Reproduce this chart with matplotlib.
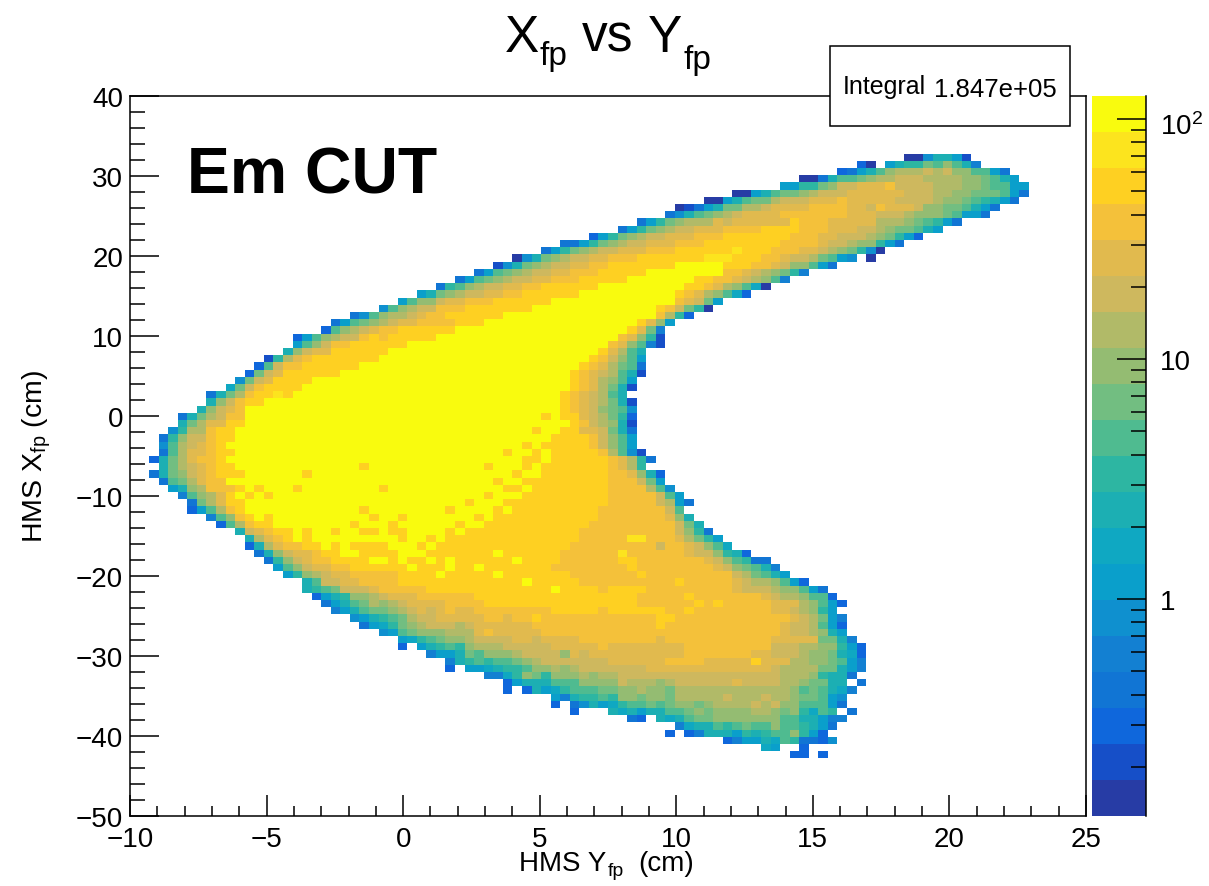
import numpy as np
import matplotlib
matplotlib.use('Agg')
import matplotlib.pyplot as plt
from matplotlib.colors import ListedColormap, LogNorm
from matplotlib.transforms import ScaledTranslation

plt.rcParams['font.family'] = ['Liberation Sans', 'DejaVu Sans']
plt.rcParams['mathtext.fontset'] = 'custom'
plt.rcParams['mathtext.rm'] = 'Liberation Sans'
plt.rcParams['mathtext.it'] = 'Liberation Sans'
plt.rcParams['mathtext.default'] = 'regular'

W, H = 1209, 887

# histogram binning
x_min, x_max, n_x = -10, 25, 100
y_min, y_max, n_y = -50, 40, 100
z_min, z_max = 10 ** -0.904, 10 ** 2.096

# the 20 colours of the z axis, bottom to top
level_colors = ['#273CA5', '#164FC8', '#0F67DC', '#1175D4', '#1380D2', '#0F90CF', '#0A9FCB',
                '#0FA8C2', '#1CAFB3', '#2DB6A2', '#4FBB90', '#72BE81', '#94BC72', '#B1BA68',
                '#CEB85E', '#E1BA4E', '#F4C13A', '#FED022', '#FCE41E', '#F9FB0E']
level_chars = '0123456789abcdefghij'

# cells, one string per y bin from bin 91 down to bin 8
# "col:levels" - the last level of a chunk runs on to the next chunk, '.' is an empty bin
first_row = 91
cell_rows = [
    "81:0058861",
    "76:20.6899baca84",
    "74:2368acdddedeccaa63",
    "70:0038aabcddeeeddddccba86",
    "68:6699bceefffgeeeedddccbaa66",
    "63:0068abbcdeeef 81:eeeddccbbba63",
    "60:0068abbdeeefffgf 80:eeeedccba9863",
    "57:01368bbddef 71:g 75:ffegfffeccbba863",
    "56:358abcdef 68:g 75:fffeeedcccba663",
    "53:369bcddd 61:fef 69:hggg 73:f 78:dddcba963",
    "51:369bcdeef 62:g 66:h 70:g 73:f 76:eedcbba86",
    "48:269bcdeefff 59:g 62:h 69:g 72:f 74:eeedcb962",
    "45:3369bcdeefffggg 60:h 68:g 72:feedcc963",
    "43:369bcdeefffgggh 63:ih 67:g 70:ffedcb950",
    "40:058bcdeeffgggh 60:iiih 66:ggfeedba65.0",
    "38:158bcdeeffggh 57:j 62:hhhggfecca63",
    "36:36abcdeeffggghhhhhj 62:ggfedcb94",
    "34:36abcdeeffgggh 52:j 59:hhggfedca4",
    "32:39acdeeffggh 49:j 58:hhgfdca70",
    "30:68bcdeeffggh 47:j 57:hgfdca72",
    "28:6acceffgggh 44:j 57:gfeb6",
    "26:5acdeegggh 42:j 55:hgeb90",
    "23:35acddefggh 39:j 55:gd92",
    "21:36abcdeffggggh 37:j 53:hfc6",
    "20:2acdefggh 34:j 52:hfb4",
    "17:26acdeeghgh 32:j 51:gfc91",
    "17:6aceggh 29:j 50:gfca41",
    "16:8ceffh 27:j 49:hfda8",
    "14:19dfgh 26:j 48:hgeca6",
    "13:2aeggh 24:j 47:hgfdba3",
    "12:2befh 22:j 46:hgfeda81",
    "11:5befh 19:j 46:hgfdca6",
    "10:7begh 18:j 46:hgfdb81",
    "8:38bdghhih 17:j 45:hgfeda8",
    "8:8cegh 14:j 45:hgfedb81",
    "7:8cefg 12:j 45:hgfecba5",
    "5:38bdegg 12:j 43:hj 45:hhfedb92",
    "5:8bdffhh 12:j 46:hgedc81",
    "4:59ddghh 11:j 42:hj 45:hhffeb83",
    "3:39ceeghh 11:j 44:hhhhgeca6",
    "3:5adefgh 10:j 41:hj 43:hhhhhgeca6",
    "3:3adffghh 11:j 39:hj 42:hj 44:hhhhhgda51",
    "2:28bdfggh 10:j 41:hhj 44:hhhhhhgfd93",
    "3:8bdefghh 11:j 24:hj 37:hj 41:hj 43:h 50:gfd9",
    "2:38bcefghhh 12:j 18:hj 40:hj 43:h 50:ggfc82",
    "3:3abdfgg 10:j 38:hj 41:h 50:gggeb6",
    "4:68cdggghj 13:hj 17:hj 26:hj 39:hhj 42:h 50:g 54:da5",
    "5:4acdfhjhjhj 37:hj 41:h 50:g 55:ea6",
    "6:3bdfhhj 35:hj 39:h 50:g 55:ed63",
    "6:26adghj 24:hj 33:hj 38:hj 40:h 49:g 56:ea",
    "8:4acghjhj 25:hj 28:hj 36:hj 38:h 49:g 56:fc8",
    "9:2adghhj 23:hj 27:hj 34:hj 37:h 48:g 57:eb8",
    "11:8efghhj 18:hj 21:hj 24:hhj 27:hhj 33:hj 35:h 47:g 57:ec93",
    "12:8dfghjhj 28:hj 31:hj 33:h 47:g 52:iig 57:fdb96",
    "12:28dfgghhj 21:hj 23:hhhhj 30:hj 32:h 46:g 55:eg 58:feca7",
    "13:38ceffghhj 24:hhhhj 31:h 38:jh 45:g 51:ig 58:feec982",
    "14:39cefggh 25:j 27:hj 29:hhjhjh 40:jh 45:g 51:hhg 60:feca933",
    "15:6aceffggh 29:jh 33:jh 36:jh 44:g 52:hg 61:fecba84",
    "16:69cdeffg 28:h 32:jh 38:jh 46:g 53:hg 63:edba86",
    "18:8aeeffg 28:h 41:jh 47:g 57:hg 63:feddca62",
    "18:89abeeefg 31:h 44:jh 49:gh 54:g 63:f 64:eeedcca63",
    "19:2689ccdef 30:g 36:h 53:g 58:hg 66:feddcaa2",
    "20:368abdcdef 33:g 37:h 53:g 59:hghg 67:f 70:dca62",
    "21:468abbcdefef 33:gf 36:g 44:h 49:gh 56:g 58:hg 67:ffedc96",
    "23:5689abde 32:f 37:g 39:f 40:g 42:hg 55:hhg 69:fedb64",
    "24:3679bcde 34:d 35:e 36:f 42:g 55:hg 68:feeda62",
    "26:56abccc 33:d 36:f 37:g 38:f 43:g 68:feedc86",
    "28:679abc 35:d 36:e 40:f 42:e 43:f 47:g 55:f 56:g 67:f 72:bb84",
    "28:2.689a9c 36:d 39:e 44:f 49:g 50:f 58:g 67:eeeddcc962",
    "31:4668bacccdeeeecfef 58:g 65:f 67:eeedccb872",
    "33:489a9aabcd 43:e 50:f 56:g 60:f 65:h 66:f 69:ddccba64",
    "33:2.667899accdcde 54:f 67:e 68:ddddbb864",
    "37:4479cb9cccdcdde 68:dddc9883",
    "39:26888aaaccccedddcd 57:e 63:fe 68:ddcbb88.3",
    "39:2.28679aaabbccdccb 57:d 67:ddcaba874",
    "44:64899a9ccbccb 57:d 62:ed 66:eddcbba65",
    "44:2.358679aabab 57:ccbc 61:d 65:edeccaaa63",
    "46:2...878688aabc 60:b 61:c 65:ddcbc97a9.3",
    "52:32.878abbc 68:aa88644",
    "57:4788a9abaacaa9863",
    "56:2.248886989aac962",
    "62:246687a93325",
    "66:76..2",
    "69:22.2",
]

# z axis
z_major = [1, 10, 100]
z_major_labels = ['1', '10', r'$10^{2}$']
z_minor = [0.2, 0.3, 0.4, 0.5, 0.6, 0.7, 0.8, 0.9, 2, 3, 4, 5, 6, 7, 8, 9,
           20, 30, 40, 50, 60, 70, 80, 90]


def fx(px):
    return px / W


def fy(py):
    return 1 - py / H


def parse_rows():
    counts = np.full((n_y, n_x), np.nan)
    step = (np.log10(z_max) - np.log10(z_min)) / len(level_chars)
    for i, line in enumerate(cell_rows):
        row = first_row - i
        chunks = [c.split(':') for c in line.split()]
        for k, (col, chars) in enumerate(chunks):
            col = int(col)
            end = int(chunks[k + 1][0]) if k + 1 < len(chunks) else col + len(chars)
            chars = chars + chars[-1] * (end - col - len(chars))
            for j, ch in enumerate(chars):
                if ch != '.':
                    lev = level_chars.index(ch)
                    counts[row, col + j] = 10 ** (np.log10(z_min) + (lev + 0.5) * step)
    return counts


counts = parse_rows()
x_edges = np.linspace(x_min, x_max, n_x + 1)
y_edges = np.linspace(y_min, y_max, n_y + 1)

fig = plt.figure(figsize=(W / 100, H / 100), dpi=100)
ax = fig.add_axes([fx(130), fy(817), (1086 - 130) / W, (817 - 97) / H])
cmap = ListedColormap(level_colors)
norm = LogNorm(vmin=z_min, vmax=z_max)
mesh = ax.pcolormesh(x_edges, y_edges, np.ma.masked_invalid(counts), cmap=cmap, norm=norm,
                     antialiased=False, linewidth=0)

ax.set_xlim(x_min, x_max)
ax.set_ylim(y_min, y_max)
ax.set_xticks(np.arange(-10, 26, 5))
ax.set_xticks(np.arange(-10, 26, 1), minor=True)
ax.set_yticks(np.arange(-50, 41, 10))
ax.set_yticks(np.arange(-50, 41, 2), minor=True)
ax.tick_params(axis='x', which='major', direction='in', length=15, width=1.1, labelsize=20, pad=7)
ax.tick_params(axis='x', which='minor', direction='in', length=7.5, width=1.1)
ax.tick_params(axis='y', which='major', direction='in', length=21, width=1.1, labelsize=20, pad=5)
ax.tick_params(axis='y', which='minor', direction='in', length=11, width=1.1)
for s in ax.spines.values():
    s.set_linewidth(1.1)

# colour scale
cax = fig.add_axes([fx(1092), fy(817), (1146 - 1092) / W, (817 - 97) / H])
cb = fig.colorbar(mesh, cax=cax)
cb.outline.set_visible(False)
cax.minorticks_off()
cax.yaxis.set_ticks(z_major, labels=z_major_labels)
cax.yaxis.set_ticks(z_minor, labels=[''] * len(z_minor), minor=True)
cax.tick_params(axis='y', which='major', direction='in', length=21, width=1.1, labelsize=20, pad=10)
cax.tick_params(axis='y', which='minor', direction='in', length=11, width=1.1)
cax.spines['right'].set_visible(True)
cax.spines['right'].set_linewidth(1.1)
top_label = cax.get_yticklabels()[-1]
top_label.set_transform(top_label.get_transform() + ScaledTranslation(0, -3 / 72, fig.dpi_scale_trans))

# title pieces
fig.text(fx(505), fy(52), 'X', fontsize=37, va='baseline')
fig.text(fx(540), fy(65), 'fp', fontsize=24, va='baseline')
fig.text(fx(582), fy(52), 'vs', fontsize=37, va='baseline')
fig.text(fx(648), fy(52), 'Y', fontsize=37, va='baseline')
fig.text(fx(684), fy(69), 'fp', fontsize=24, va='baseline')

# axis titles, x title built from pieces so that its box stays clear of the tick labels
fig.text(fx(519), fy(871), 'HMS Y', fontsize=20, va='baseline')
fig.text(fx(608), fy(876), 'fp', fontsize=14, va='baseline')
fig.text(fx(638), fy(871), '(cm)', fontsize=20, va='baseline')
fig.text(fx(53), fy(456), r'HMS X$_{fp}$ (cm)', fontsize=20.5, rotation=90, ha='right', va='center')

# cut label
fig.text(fx(187), fy(193), 'Em CUT', fontsize=46.4, fontweight='bold', va='baseline')

# stats box
box = plt.Rectangle((fx(830), fy(127)), 240 / W, 80 / H, transform=fig.transFigure,
                    facecolor='white', edgecolor='black', linewidth=1.1, zorder=5)
fig.add_artist(box)
fig.text(fx(843), fy(94), 'Integral', fontsize=18, va='baseline', zorder=6)
fig.text(fx(934), fy(97), '1.847e+05', fontsize=18.5, va='baseline', zorder=6)

fig.savefig('out.png', dpi=100)
